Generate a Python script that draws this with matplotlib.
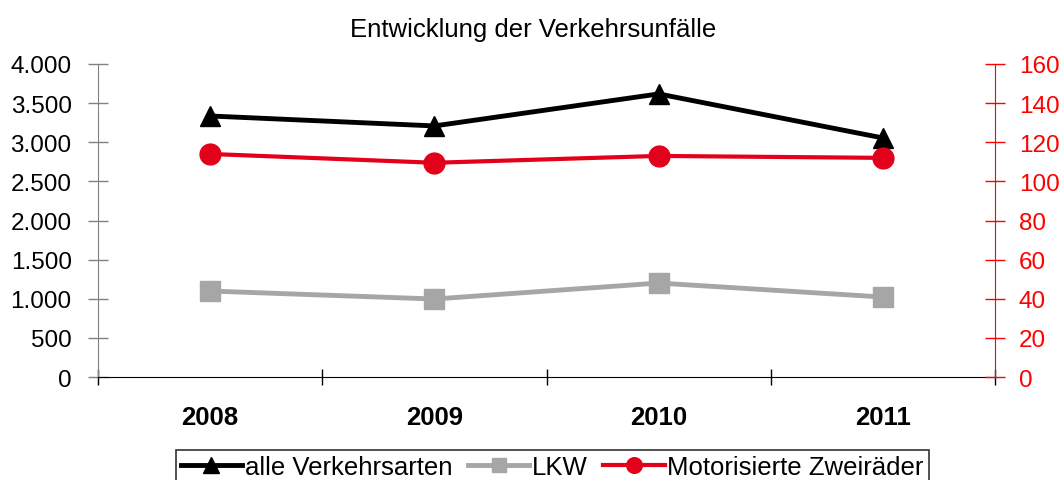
import numpy as np
import matplotlib.pyplot as plt

plt.rcParams['font.family'] = ['Liberation Sans', 'DejaVu Sans']

years = ['2008', '2009', '2010', '2011']
alle = [3335, 3208, 3617, 3054]
lkw = [1099, 997, 1201, 1022]
zweirad = [114, 109.5, 113, 112]

fig = plt.figure(figsize=(10.62, 4.81), dpi=100)
ax = fig.add_axes([0.0923, 0.214, 0.8447, 0.651])
ax2 = ax.twinx()

x = np.arange(len(years))
l1, = ax.plot(x, alle, color='black', lw=3.5, marker='^', ms=15, label='alle Verkehrsarten')
l2, = ax.plot(x, lkw, color='#a6a6a6', lw=3.5, marker='s', ms=14, label='LKW')
l3, = ax2.plot(x, zweirad, color='#e3001b', lw=3, marker='o', ms=15, label='Motorisierte Zweiräder')

ax.set_xlim(-0.5, 3.5)
ax.set_ylim(0, 4000)
ax2.set_ylim(0, 160)
ax.set_yticks(np.arange(0, 4001, 500))
ax.set_yticklabels([f'{v:,}'.replace(',', '.') for v in range(0, 4001, 500)], fontsize=17.5)
ax2.set_yticks(np.arange(0, 161, 20))
ax2.set_yticklabels([str(v) for v in range(0, 161, 20)], fontsize=17.5, color='red')

ax.set_xticks(np.arange(-0.5, 3.6, 1), minor=False)
ax.set_xticklabels([])
ax.set_xticks(x, minor=True)
ax.set_xticklabels(years, minor=True, fontsize=18.5, fontweight='bold')
ax.tick_params(axis='x', which='major', direction='inout', length=12, width=1)
ax.tick_params(axis='x', which='minor', length=0, pad=20)
ax.tick_params(axis='y', direction='inout', length=14, width=1, color='#808080', pad=12)
ax2.tick_params(axis='y', direction='inout', length=14, width=1, color='red', pad=10)

for a in (ax, ax2):
    a.spines['top'].set_visible(False)
ax.spines['right'].set_visible(False)
ax.spines['left'].set_color('#808080')
ax2.spines['left'].set_visible(False)
ax2.spines['right'].set_color('red')
ax2.spines['bottom'].set_visible(False)

fig.text(533 / 1062, 1 - 30 / 481, 'Entwicklung der Verkehrsunfälle', fontsize=18.5,
         ha='center', va='center')

leg = fig.legend(handles=[l1, l2, l3], loc='lower center', bbox_to_anchor=(0.52, -0.035), ncol=3,
                 fontsize=18.5, frameon=True, fancybox=False, edgecolor='black',
                 handlelength=2.4, handletextpad=0.1, columnspacing=0.6, borderpad=0.2,
                 markerscale=0.75)
leg.get_frame().set_linewidth(1.2)

fig.savefig('out.png', dpi=100)
